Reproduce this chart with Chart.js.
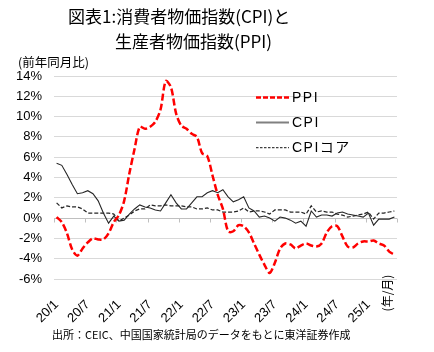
<!DOCTYPE html>
<html><head><meta charset="utf-8">
<script src="https://cdn.jsdelivr.net/npm/chart.js@4.4.1/dist/chart.umd.min.js"></script>
<style>
html,body{margin:0;padding:0;background:#fff;}
#wrap{position:relative;width:434px;height:352px;overflow:hidden;background:#fff;}
#c{position:absolute;left:0;top:0;}
.t{position:absolute;white-space:nowrap;color:#000;font-family:"Noto Sans CJK JP",sans-serif;line-height:1;}
</style></head><body>
<div id="wrap">
<canvas id="c" width="434" height="352"></canvas>
<div class="t" style="left:68px;top:7px;font-size:17px;">図表1:消費者物価指数(CPI)と</div>
<div class="t" style="left:115px;top:31.5px;font-size:17px;">生産者物価指数(PPI)</div>
<div class="t" style="left:18px;top:56px;font-size:12.5px;">(前年同月比)</div>
<div class="t" style="left:52px;top:329px;font-size:11px;">出所：CEIC、中国国家統計局のデータをもとに東洋証券作成</div>
<div class="t" style="left:367px;top:287px;width:40px;text-align:center;font-size:12px;transform:rotate(-90deg);">(年/月)</div>
</div>
<script>
const categories = [
 '20/1','20/2','20/3','20/4','20/5','20/6','20/7','20/8','20/9','20/10','20/11','20/12',
 '21/1','21/2','21/3','21/4','21/5','21/6','21/7','21/8','21/9','21/10','21/11','21/12',
 '22/1','22/2','22/3','22/4','22/5','22/6','22/7','22/8','22/9','22/10','22/11','22/12',
 '23/1','23/2','23/3','23/4','23/5','23/6','23/7','23/8','23/9','23/10','23/11','23/12',
 '24/1','24/2','24/3','24/4','24/5','24/6','24/7','24/8','24/9','24/10','24/11','24/12',
 '25/1','25/2','25/3','25/4','25/5','25/6'
];
const xTickLabels = ['20/1','20/7','21/1','21/7','22/1','22/7','23/1','23/7','24/1','24/7','25/1'];
const yTicks = [-6,-4,-2,0,2,4,6,8,10,12,14];

const ppi = [
 0.1,-0.4,-1.5,-3.1,-3.7,-3.0,-2.4,-2.0,-2.1,-2.1,-1.5,-0.4,
 0.3,1.7,4.4,6.8,9.0,8.8,9.0,9.5,10.7,13.5,12.9,10.3,
 9.1,8.8,8.3,8.0,6.4,6.1,4.2,2.3,0.9,-1.3,-1.3,-0.7,
 -0.8,-1.4,-2.5,-3.6,-4.6,-5.4,-4.4,-3.0,-2.5,-2.6,-3.0,-2.7,
 -2.5,-2.7,-2.8,-2.5,-1.4,-0.8,-0.8,-1.8,-2.8,-2.9,-2.5,-2.3,
 -2.3,-2.2,-2.5,-2.7,-3.3,-3.6
];
const cpi = [
 5.4,5.2,4.3,3.3,2.4,2.5,2.7,2.4,1.7,0.5,-0.5,0.2,
 -0.3,-0.2,0.4,0.9,1.3,1.1,1.0,0.8,0.7,1.5,2.3,1.5,
 0.9,0.9,1.5,2.1,2.1,2.5,2.7,2.5,2.8,2.1,1.6,1.8,
 2.1,1.0,0.7,0.1,0.2,0.0,-0.3,0.1,0.0,-0.2,-0.5,-0.3,
 -0.8,0.7,0.1,0.3,0.3,0.2,0.5,0.6,0.4,0.3,0.2,0.1,
 0.5,-0.7,-0.1,-0.1,-0.1,0.1
];
const coreCpi = [
 1.5,1.0,1.2,1.1,1.1,0.9,0.5,0.5,0.5,0.5,0.5,0.4,
 -0.3,0.0,0.3,0.7,0.9,0.9,1.3,1.2,1.2,1.3,1.2,1.2,
 1.2,1.1,1.1,0.9,0.9,1.0,0.8,0.8,0.6,0.6,0.6,0.7,
 1.0,0.6,0.7,0.7,0.6,0.4,0.8,0.8,0.8,0.6,0.6,0.6,
 0.4,1.2,0.6,0.7,0.6,0.6,0.4,0.3,0.1,0.2,0.3,0.4,
 0.6,-0.1,0.5,0.5,0.6,0.7
];
const seriesNames = ['PPI','CPI','CPIコア'];

const legendStyles = [
  {color:'#ff0000', width:2.5, dash:[5,2]},
  {color:'#808080', width:2, dash:[]},
  {color:'#404040', width:1.25, dash:[2.5,1.5]}
];

const zeroAxisPlugin = {
  id:'zeroAxis',
  beforeDatasetsDraw(chart){
    const {ctx, chartArea, scales:{x,y}} = chart;
    const y0 = Math.round(y.getPixelForValue(0)) + 0.5;
    ctx.save();
    ctx.strokeStyle = '#bfbfbf';
    ctx.lineWidth = 1;
    ctx.beginPath();
    ctx.moveTo(chartArea.left, y0);
    ctx.lineTo(chartArea.right, y0);
    const step = x.getPixelForValue(1) - x.getPixelForValue(0);
    for (let i = 0; i <= categories.length; i += 6) {
      const bx = Math.round(x.getPixelForValue(i) - step/2) + 0.5;
      ctx.moveTo(bx, y0);
      ctx.lineTo(bx, y0 + 4);
    }
    ctx.stroke();
    ctx.restore();
  }
};

const legendPlugin = {
  id:'customLegend',
  afterDraw(chart){
    const ctx = chart.ctx;
    const rows = [97.5, 122.5, 147.5];
    ctx.save();
    chart.data.datasets.forEach((ds, i) => {
      const st = legendStyles[i];
      const yy = rows[i];
      ctx.strokeStyle = st.color;
      ctx.lineWidth = st.width;
      ctx.setLineDash(st.dash);
      ctx.beginPath();
      ctx.moveTo(256, yy);
      ctx.lineTo(289, yy);
      ctx.stroke();
      ctx.setLineDash([]);
      ctx.fillStyle = '#000';
      ctx.font = '14px "Liberation Sans", "Noto Sans CJK JP", sans-serif';
      try { ctx.letterSpacing = '1.5px'; } catch(e) {}
      ctx.textBaseline = 'middle';
      ctx.textAlign = 'left';
      ctx.fillText(ds.label, 292, yy + 0.5);
    });
    ctx.restore();
  }
};

new Chart(document.getElementById('c').getContext('2d'), {
  type:'line',
  data:{
    labels:categories,
    datasets:[
      {label:seriesNames[0], data:ppi, borderColor:'#ff0000', borderWidth:2.5, borderDash:[7,3], tension:0.3, pointRadius:0, fill:false},
      {label:seriesNames[1], data:cpi, borderColor:'#262626', borderWidth:1.1, tension:0, pointRadius:0, fill:false},
      {label:seriesNames[2], data:coreCpi, borderColor:'#262626', borderWidth:1.25, borderDash:[4,2], tension:0, pointRadius:0, fill:false}
    ]
  },
  options:{
    responsive:false,
    animation:false,
    layout:{padding:{top:76, right:37, left:0, bottom:0}},
    plugins:{legend:{display:false}, title:{display:false}, tooltip:{enabled:false}},
    scales:{
      x:{
        offset:true,
        grid:{display:false},
        border:{display:false},
        ticks:{
          autoSkip:false, maxRotation:45, minRotation:45, padding:10,
          color:'#000', font:{family:'"Liberation Sans", Arial, sans-serif', size:13},
          callback:function(v, i){ const l = categories[i]; return xTickLabels.includes(l) ? l : ''; }
        },
        afterFit(s){ s.height = 73; }
      },
      y:{
        min:yTicks[0], max:yTicks[yTicks.length-1],
        grid:{color:'#d9d9d9', lineWidth:1, drawTicks:false},
        border:{display:false},
        afterBuildTicks(s){ s.ticks = yTicks.map(v => ({value:v})); },
        ticks:{
          padding:12, color:'#000', font:{family:'"Liberation Sans", Arial, sans-serif', size:13},
          callback:v => v + '%'
        },
        afterFit(s){ s.width = 54; }
      }
    }
  },
  plugins:[zeroAxisPlugin, legendPlugin]
});
</script>
</body></html>
